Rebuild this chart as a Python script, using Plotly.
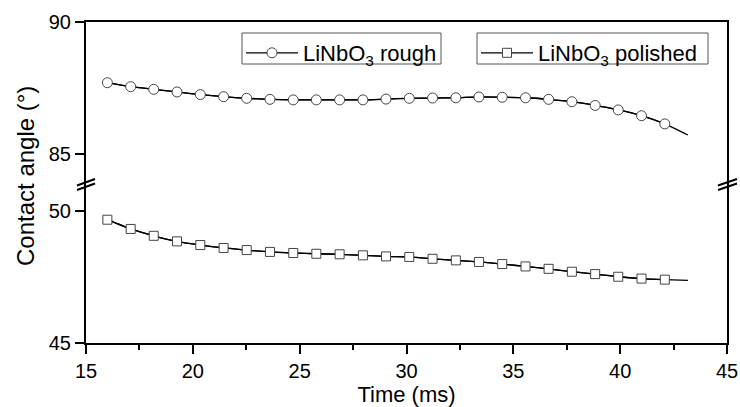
import plotly.graph_objects as go

time_ms = [16.0, 17.09, 18.17, 19.26, 20.35, 21.44, 22.52, 23.61, 24.70, 25.78,
           26.87, 27.96, 29.04, 30.13, 31.22, 32.31, 33.39, 34.48, 35.57, 36.65,
           37.74, 38.83, 39.91, 41.00, 42.09, 43.17]
rough = [87.70, 87.55, 87.45, 87.35, 87.25, 87.17, 87.11, 87.07, 87.05, 87.05,
         87.05, 87.05, 87.08, 87.11, 87.12, 87.13, 87.16, 87.15, 87.13, 87.07,
         86.98, 86.84, 86.67, 86.45, 86.14, 85.72]
polished = [49.67, 49.32, 49.06, 48.85, 48.71, 48.60, 48.52, 48.45, 48.41, 48.38,
            48.36, 48.32, 48.28, 48.26, 48.19, 48.13, 48.07, 47.99, 47.90, 47.81,
            47.70, 47.61, 47.51, 47.44, 47.40, 47.37]
n_marked = 25  # markers drawn on the first 25 samples
names = ["LiNbO<sub>3</sub> rough", "LiNbO<sub>3</sub> polished"]
x_ticks = [15, 20, 25, 30, 35, 40, 45]
upper_ticks = [85, 90]
lower_ticks = [45, 50]

FONT = "Liberation Sans, Arial, sans-serif"
W, H = 740, 407
L, R, T, B = 86, 13, 22, 64
pw, ph = W - L - R, H - T - B
brk_px = 182.5
brk = (H - B - brk_px) / ph

fig = go.Figure()
line_style = dict(color="black", width=1.3, shape="spline", smoothing=0.6)
mk = dict(color="white", line=dict(color="#444", width=1))

# rough (upper panel)
fig.add_trace(go.Scatter(x=time_ms, y=rough, mode="lines", line=line_style,
                         xaxis="x2", yaxis="y2", showlegend=False, hoverinfo="skip"))
fig.add_trace(go.Scatter(x=time_ms[:n_marked], y=rough[:n_marked], mode="lines+markers",
                         line=line_style, marker=dict(symbol="circle", size=10, **mk),
                         xaxis="x2", yaxis="y2", name=names[0], legend="legend"))
# polished (lower panel)
fig.add_trace(go.Scatter(x=time_ms, y=polished, mode="lines", line=line_style,
                         xaxis="x", yaxis="y", showlegend=False, hoverinfo="skip"))
fig.add_trace(go.Scatter(x=time_ms[:n_marked], y=polished[:n_marked], mode="lines+markers",
                         line=line_style, marker=dict(symbol="square", size=9, **mk),
                         xaxis="x", yaxis="y", name=names[1], legend="legend2"))

axis_common = dict(showline=True, linecolor="black", linewidth=2, showgrid=False,
                   zeroline=False, tickcolor="black", tickwidth=2, automargin=False,
                   tickfont=dict(family=FONT, size=20, color="black"))

upper_range_lo = 90 - (brk_px - T) / 26.4
lower_range_hi = 45 + (H - B - brk_px) / 26.4

LEG_Y_PX = 32
leg_common = dict(xanchor="left", y=(H - B - LEG_Y_PX) / ph, yanchor="top",
                  borderwidth=0, bgcolor="rgba(0,0,0,0)",
                  font=dict(family=FONT, size=22), itemwidth=52, tracegroupgap=0)

fig.update_layout(
    width=W, height=H,
    margin=dict(l=L, r=R, t=T, b=B, autoexpand=False),
    paper_bgcolor="white", plot_bgcolor="white",
    font=dict(family=FONT, size=20, color="black"),
    xaxis=dict(range=[15, 45], anchor="y", tickvals=x_ticks, ticks="outside", ticklen=9,
               minor=dict(dtick=2.5, tick0=15, ticks="outside", ticklen=5, tickwidth=2,
                          tickcolor="black", showgrid=False),
               title=dict(text="Time (ms)", font=dict(family=FONT, size=22), standoff=4),
               **axis_common),
    xaxis2=dict(range=[15, 45], anchor="y2", matches="x", side="top", ticks="",
                showticklabels=False, **axis_common),
    yaxis=dict(domain=[0, brk], range=[45, lower_range_hi], tickvals=lower_ticks,
               ticks="outside", ticklen=9, mirror=True, anchor="x", **axis_common),
    yaxis2=dict(domain=[brk, 1], range=[upper_range_lo, 90], tickvals=upper_ticks,
                ticks="outside", ticklen=9, mirror=True, anchor="x2", **axis_common),
    legend=dict(x=(241 - L) / pw, **leg_common),
    legend2=dict(x=(476 - L) / pw, **leg_common),
    showlegend=True,
)

def px2paper(px, py):
    return (px - L) / pw, (H - B - py) / ph

# legend frames
for (bx0, bx1) in [(242, 441), (477, 708)]:
    a0, b0 = px2paper(bx0, 64)
    a1, b1 = px2paper(bx1, 33)
    fig.add_shape(type="rect", xref="paper", yref="paper", x0=a0, y0=b0, x1=a1, y1=b1,
                  line=dict(color="#555", width=1), layer="below")

# y-axis title
fig.add_annotation(text="Contact angle (°)", xref="paper", yref="paper",
                   x=(25 - L) / pw, y=(H - B - 176) / ph, textangle=-90,
                   showarrow=False, font=dict(family=FONT, size=24, color="black"),
                   xanchor="center", yanchor="middle")

# axis break marks
for (x0, y0, x1, y1) in [(77, 185.5, 95, 179.0), (77, 190.0, 95, 183.5),
                         (718, 185.5, 737, 179.0), (718, 190.0, 737, 183.5)]:
    a0, b0 = px2paper(x0, y0)
    a1, b1 = px2paper(x1, y1)
    fig.add_shape(type="line", xref="paper", yref="paper", x0=a0, y0=b0, x1=a1, y1=b1,
                  line=dict(color="black", width=2))

fig.write_html("out.html", config={"displayModeBar": False},
               post_script="document.body.style.margin='0';document.body.style.overflow='hidden';")
